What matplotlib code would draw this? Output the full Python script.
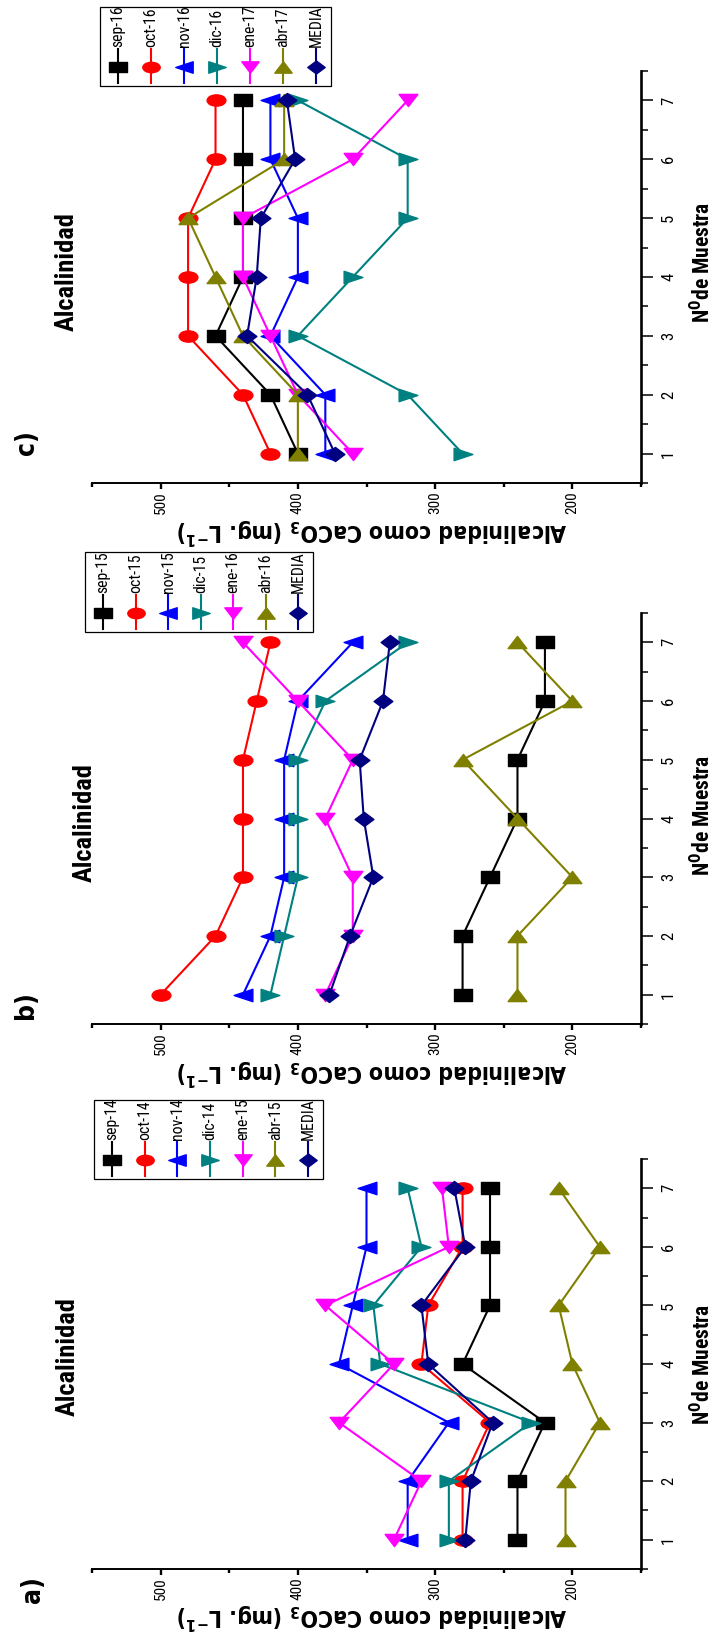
import matplotlib
matplotlib.use("Agg")
import matplotlib.pyplot as plt
from matplotlib import font_manager as fm
from matplotlib.path import Path
from matplotlib.transforms import Affine2D
from matplotlib.lines import Line2D
from matplotlib.patches import Rectangle
from matplotlib.ticker import MultipleLocator

# ---------------------------------------------------------------- data
samples = [1, 2, 3, 4, 5, 6, 7]
sample_labels = ["1", "2", "3", "4", "5", "6", "7"]
alk_labels = ["200", "300", "400", "500"]

# a) campaign 2014-2015
names_a = ["sep-14", "oct-14", "nov-14", "dic-14", "ene-15", "abr-15", "MEDIA"]
sep_14 = [240, 240, 220, 280, 260, 260, 260]
oct_14 = [280, 280, 260, 310, 305, 280, 280]
nov_14 = [320, 320, 290, 370, 360, 350, 350]
dic_14 = [290, 290, 230, 340, 345, 310, 320]
ene_15 = [330, 310, 370, 330, 380, 290, 295]
abr_15 = [205, 205, 180, 200, 210, 180, 210]
media_a = [278, 274, 258, 305, 310, 278, 286]

# b) campaign 2015-2016
names_b = ["sep-15", "oct-15", "nov-15", "dic-15", "ene-16", "abr-16", "MEDIA"]
sep_15 = [280, 280, 260, 240, 240, 220, 220]
oct_15 = [500, 460, 440, 440, 440, 430, 420]
nov_15 = [440, 420, 410, 410, 410, 400, 360]
dic_15 = [420, 410, 400, 400, 400, 380, 320]
ene_16 = [380, 360, 360, 380, 360, 400, 440]
abr_16 = [240, 240, 200, 240, 280, 200, 240]
media_b = [377, 362, 345, 352, 355, 338, 333]

# c) campaign 2016-2017
names_c = ["sep-16", "oct-16", "nov-16", "dic-16", "ene-17", "abr-17", "MEDIA"]
sep_16 = [400, 420, 460, 440, 440, 440, 440]
oct_16 = [420, 440, 480, 480, 480, 460, 460]
nov_16 = [380, 380, 420, 400, 400, 420, 420]
dic_16 = [280, 320, 400, 360, 320, 320, 400]
ene_17 = [360, 400, 420, 440, 440, 360, 320]
abr_17 = [400, 400, 440, 460, 480, 410, 410]
media_c = [373, 393, 437, 430, 427, 402, 408]

panel_letters = ["a)", "b)", "c)"]
title_text = "Alcalinidad"
alk_axis_label = r"Alcalinidad como CaCO$_\mathbf{3}$ (mg. L$^\mathbf{-1}$)"
sample_axis_label = r"N$^\mathbf{0}$de Muestra"

# ---------------------------------------------------------------- fonts
available = {f.name for f in fm.fontManager.ttflist}
NARROW = next((f for f in ["Liberation Sans Narrow", "Roboto Condensed",
                           "Open Sans Condensed", "DejaVu Sans"]
               if f in available), "DejaVu Sans")
plt.rcParams["font.family"] = [NARROW, "DejaVu Sans"]
plt.rcParams["font.stretch"] = "condensed"
plt.rcParams["mathtext.fontset"] = "dejavusans"

# ---------------------------------------------------------------- markers
def flat_polygon(verts, sy):
    pts = [(x, y * sy) for x, y in verts]
    return Path(pts + [pts[0]], closed=True)

SY = 0.6
m_square = flat_polygon([(-1, -1), (1, -1), (1, 1), (-1, 1)], SY)
m_circle = Path.unit_circle().transformed(Affine2D().scale(1, SY))
m_left = flat_polygon([(-1, 0), (1, 1.1), (1, -1.1)], SY)
m_right = flat_polygon([(1, 0), (-1, 1.1), (-1, -1.1)], SY)
m_down = flat_polygon([(0, -1), (-1, 1), (1, 1)], 0.65)
m_up = flat_polygon([(0, 1), (-1, -1), (1, -1)], 0.65)
m_diamond = flat_polygon([(0, 1), (1, 0), (0, -1), (-1, 0)], 0.75)

colors = ["#000000", "#FF0000", "#0000FF", "#008080", "#FF00FF", "#808000", "#000080"]
markers = [m_square, m_circle, m_left, m_right, m_down, m_up, m_diamond]

# ---------------------------------------------------------------- layout (pixels)
W, H = 721, 1632
fig = plt.figure(figsize=(W / 100, H / 100), dpi=100)
fig.patch.set_facecolor("white")

def fx(x):
    return x / W

def fy(y):
    return 1 - y / H

panels = [
    dict(names=names_a, series=[sep_14, oct_14, nov_14, dic_14, ene_15, abr_15, media_a],
         letter=panel_letters[0], axes=(92, 1159, 641, 1569),
         legend=(94, 1100, 323, 1179), title=(68, 1357), letter_xy=(33, 1590),
         slabel_y=0.50, xlabel_gap=32),
    dict(names=names_b, series=[sep_15, oct_15, nov_15, dic_15, ene_16, abr_16, media_b],
         letter=panel_letters[1], axes=(92, 613, 641, 1024),
         legend=(85, 552, 313, 632), title=(85, 823), letter_xy=(26, 1005),
         slabel_y=0.507, xlabel_gap=33),
    dict(names=names_c, series=[sep_16, oct_16, nov_16, dic_16, ene_17, abr_17, media_c],
         letter=panel_letters[2], axes=(92, 71, 641, 483),
         legend=(100, 7, 331, 86), title=(67, 272), letter_xy=(27, 443),
         slabel_y=0.536, xlabel_gap=33),
]


def draw_legend(box, names):
    l, t, r, b = box
    fig.add_artist(Rectangle((fx(l), fy(b)), (r - l) / W, (b - t) / H,
                             transform=fig.transFigure, fill=False,
                             edgecolor="black", lw=0.9))
    step = (r - l - 33) / (len(names) - 1)
    for i, (name, color, mk) in enumerate(zip(names, colors, markers)):
        x = l + 18 + i * step
        fig.add_artist(Line2D([fx(x), fx(x)], [fy(b - 3), fy(b - 37)],
                              transform=fig.transFigure, color=color, lw=1.5))
        fig.add_artist(Line2D([fx(x)], [fy(b - 19)], transform=fig.transFigure,
                              marker=mk, ms=12.5, color=color, ls="none"))
        fig.text(fx(x), fy(b - 39), name, rotation=90, rotation_mode="anchor",
                 ha="left", va="center", fontsize=11.3)


for p in panels:
    l, t, r, b = p["axes"]
    ax = fig.add_axes([fx(l), fy(b), (r - l) / W, (b - t) / H])

    for vals, color, mk in zip(p["series"], colors, markers):
        ax.plot(vals, samples, color=color, lw=1.5, marker=mk, ms=13.5,
                clip_on=False)

    ax.set_xlim(550, 150)
    ax.set_ylim(0.5, 7.5)
    for side in ("top", "left"):
        ax.spines[side].set_visible(False)
    ax.spines["bottom"].set_linewidth(1.4)
    ax.spines["right"].set_linewidth(1.9)

    ax.xaxis.set_major_locator(MultipleLocator(100))
    ax.xaxis.set_minor_locator(MultipleLocator(50))
    ax.set_xticks([int(v) for v in alk_labels], alk_labels)
    ax.yaxis.tick_right()
    ax.set_yticks(samples, sample_labels)
    ax.yaxis.set_minor_locator(MultipleLocator(0.5))

    ax.tick_params(axis="x", which="major", direction="out", length=4.3,
                   width=1.7, labelsize=11, labelrotation=90, pad=2)
    ax.tick_params(axis="x", which="minor", direction="out", length=2.6, width=1.7)
    ax.tick_params(axis="y", which="major", direction="out", length=8.4,
                   width=1.1, labelsize=12, labelrotation=90, pad=6)
    ax.tick_params(axis="y", which="minor", direction="out", length=5, width=1.1)
    for lbl in ax.get_yticklabels():
        lbl.set_va("center")

    ax.set_xlabel(alk_axis_label, rotation=180, fontsize=16.5,
                  family="DejaVu Sans", fontweight="bold")
    ax.xaxis.set_label_coords(0.51, -p["xlabel_gap"] / (b - t))
    ax.yaxis.set_label_position("right")
    ax.set_ylabel(sample_axis_label, fontsize=15.5, fontweight="bold")
    ax.yaxis.set_label_coords((690 - l) / (r - l), p["slabel_y"])

    tx, ty = p["title"]
    fig.text(fx(tx), fy(ty), title_text, rotation=90, ha="center", va="center",
             fontsize=19, fontweight="bold")
    lx, ly = p["letter_xy"]
    fig.text(fx(lx), fy(ly), p["letter"], rotation=90, ha="center", va="center",
             fontsize=19, fontweight="bold", family="DejaVu Sans")

    draw_legend(p["legend"], p["names"])

fig.savefig("out.png", dpi=100, facecolor="white")
